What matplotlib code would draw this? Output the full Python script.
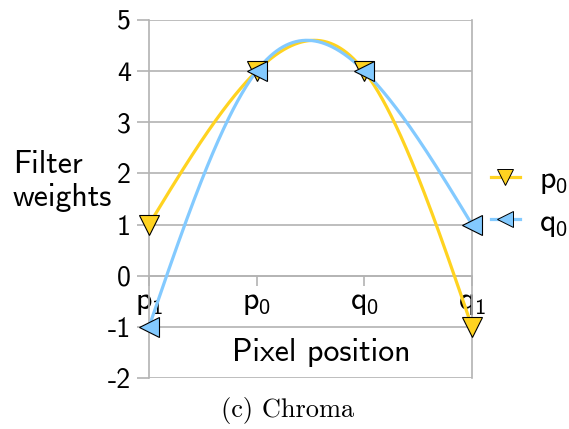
import numpy as np
import matplotlib.pyplot as plt
from matplotlib.lines import Line2D

plt.rcParams['mathtext.fontset'] = 'custom'
plt.rcParams['mathtext.rm'] = 'cmss10'
plt.rcParams['mathtext.sf'] = 'cmss10'
plt.rcParams['font.family'] = 'cmss10'
plt.rcParams['axes.unicode_minus'] = False

# sample positions across the edge and the filter taps
positions = [0, 1, 2, 3]
tick_names = [r'$\mathrm{p}_{1}$', r'$\mathrm{p}_{0}$', r'$\mathrm{q}_{0}$', r'$\mathrm{q}_{1}$']
p0_weights = [1, 4, 4, -1]
q0_weights = [-1, 4, 4, 1]
y_ticks = [-2, -1, 0, 1, 2, 3, 4, 5]

yellow = '#ffd320'
blue = '#83caff'
grid_grey = '#b3b3b3'


def natural_spline(x, y, num=300):
    # natural cubic spline through the points, used for the smoothed lines
    x = np.asarray(x, float)
    y = np.asarray(y, float)
    n = len(x)
    h = np.diff(x)
    A = np.zeros((n, n))
    b = np.zeros(n)
    A[0, 0] = A[-1, -1] = 1
    for i in range(1, n - 1):
        A[i, i - 1] = h[i - 1]
        A[i, i] = 2 * (h[i - 1] + h[i])
        A[i, i + 1] = h[i]
        b[i] = 6 * ((y[i + 1] - y[i]) / h[i] - (y[i] - y[i - 1]) / h[i - 1])
    m = np.linalg.solve(A, b)
    xs = np.linspace(x[0], x[-1], num)
    k = np.clip(np.searchsorted(x, xs) - 1, 0, n - 2)
    x0, x1, hk = x[k], x[k + 1], h[k]
    ys = ((m[k] * (x1 - xs) ** 3 + m[k + 1] * (xs - x0) ** 3) / (6 * hk)
          + (y[k] / hk - m[k] * hk / 6) * (x1 - xs)
          + (y[k + 1] / hk - m[k + 1] * hk / 6) * (xs - x0))
    return xs, ys


fig = plt.figure(figsize=(5.69, 4.29), dpi=100)
ax = fig.add_axes([149 / 569, 1 - 378 / 429, 323 / 569, 358 / 429])

series = [(p0_weights, yellow, 'v', r'$\mathrm{p}_{0}$'),
          (q0_weights, blue, '<', r'$\mathrm{q}_{0}$')]
handles = []
for vals, col, mk, name in series:
    xs, ys = natural_spline(positions, vals)
    ax.plot(xs, ys, color=col, lw=2.3, solid_capstyle='round', zorder=3)
    ax.plot(positions, vals, ls='none', marker=mk, ms=15, mfc=col,
            mec='black', mew=0.8, clip_on=False, zorder=4)
    handles.append(Line2D([], [], color=col, lw=2.3, marker=mk, ms=11,
                          mfc=col, mec='black', mew=0.7, label=name))

ax.set_xlim(0, 3)
ax.set_ylim(-2, 5)
ax.set_yticks(y_ticks)
ax.set_yticklabels([str(v) for v in y_ticks])
ax.set_xticks(positions)
ax.set_xticklabels(tick_names)
ax.grid(axis='y', color=grid_grey, lw=1.2)
ax.set_axisbelow(True)

ax.spines['bottom'].set_position(('data', 0))
for side in ['left', 'right', 'bottom']:
    ax.spines[side].set_color(grid_grey)
    ax.spines[side].set_linewidth(1.2)
ax.spines['top'].set_visible(False)

ax.tick_params(axis='y', direction='out', length=9, width=1.2, color=grid_grey,
               labelsize=20, pad=4)
ax.tick_params(axis='x', direction='out', length=7.5, width=1.2, color=grid_grey,
               labelsize=23, pad=1)

ax.text(1.6, -1.5, 'Pixel position', ha='center', va='center', fontsize=23)
fig.text(13 / 569, 1 - 181 / 429, 'Filter\nweights', ha='left', va='center',
         fontsize=23, linespacing=1.15)
fig.text(288 / 569, 1 - 410 / 429, '(c) Chroma', family='cmr10', ha='center',
         va='center', fontsize=19)

fig.legend(handles=handles, loc='center left', bbox_to_anchor=(491 / 569, 1 - 202 / 429),
           frameon=False, fontsize=23, handlelength=0.9, handletextpad=0.6,
           labelspacing=0.35, borderpad=0, borderaxespad=0)

fig.savefig('out.png', dpi=100)
